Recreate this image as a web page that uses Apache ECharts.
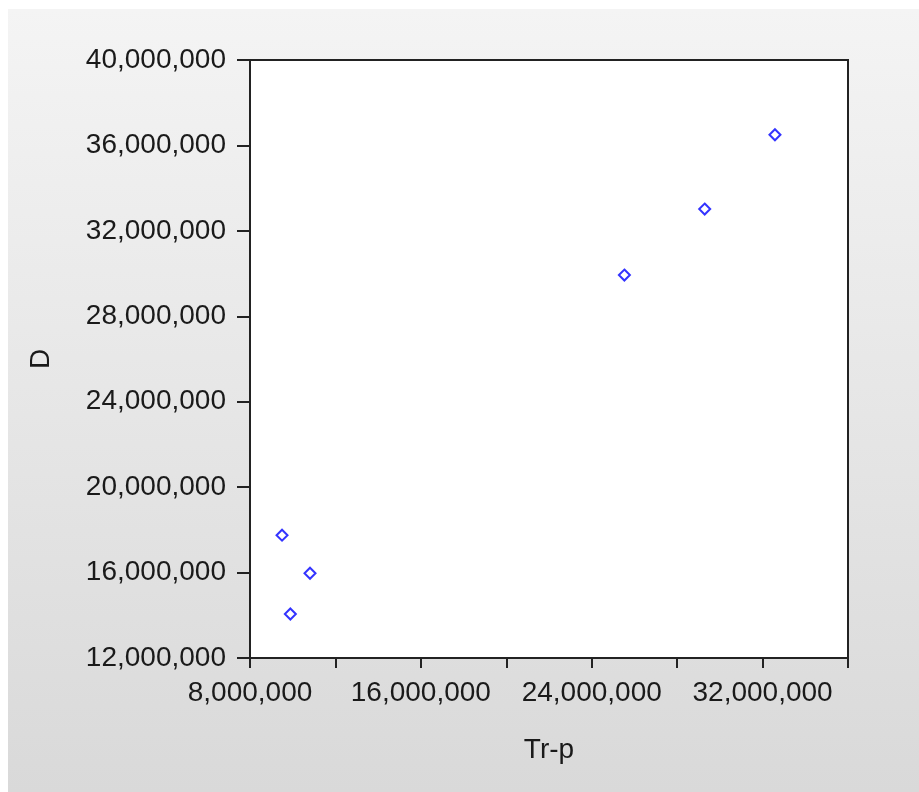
<!DOCTYPE html>
<html>
<head>
<meta charset="utf-8">
<script src="https://cdn.jsdelivr.net/npm/echarts@6/dist/echarts.min.js"></script>
<style>
html,body{margin:0;padding:0;background:#ffffff;}
#chart{width:919px;height:792px;}
</style>
</head>
<body>
<div id="chart"></div>
<script>
// Data (Tr-p on x, D on y)
const trP = [32580000, 29290000, 25530000, 9500000, 10810000, 9890000];
const dVals = [36500000, 33020000, 29930000, 17750000, 15970000, 14060000];
const xLabelled = [8000000, 16000000, 24000000, 32000000];
const xName = 'Tr-p';
const yName = 'D';

const points = trP.map((x, i) => [x, dVals[i]]);
const fmt = v => v.toLocaleString('en-US');
const font = '"Liberation Sans", Arial, sans-serif';

const chart = echarts.init(document.getElementById('chart'));
chart.setOption({
  animation: false,
  graphic: [{
    type: 'rect',
    z: -10,
    shape: {x: 8, y: 9, width: 911, height: 783},
    style: {
      fill: new echarts.graphic.LinearGradient(0, 0, 0, 1, [
        {offset: 0, color: '#f4f4f4'},
        {offset: 1, color: '#d9d9d9'}
      ])
    }
  }],
  grid: {
    left: 250, top: 60, right: 71, bottom: 134,
    show: true, backgroundColor: '#ffffff',
    borderColor: '#222', borderWidth: 2
  },
  xAxis: {
    type: 'value',
    min: 8000000, max: 36000000, interval: 4000000,
    name: xName, nameLocation: 'middle', nameGap: 78,
    nameTextStyle: {fontFamily: font, fontSize: 28, color: '#1a1a1a'},
    axisLine: {show: true, onZero: false, lineStyle: {color: '#222', width: 2}},
    axisTick: {show: true, inside: false, length: 10, lineStyle: {color: '#222', width: 2}},
    splitLine: {show: false},
    axisLabel: {
      margin: 21, fontFamily: font, fontSize: 28, color: '#1a1a1a',
      formatter: v => xLabelled.includes(v) ? fmt(v) : ''
    }
  },
  yAxis: {
    type: 'value',
    min: 12000000, max: 40000000, interval: 4000000,
    name: yName, nameLocation: 'middle', nameGap: 195, nameRotate: 90,
    nameTextStyle: {fontFamily: font, fontSize: 28, color: '#1a1a1a'},
    axisLine: {show: true, onZero: false, lineStyle: {color: '#222', width: 2}},
    axisTick: {show: true, inside: false, length: 13, lineStyle: {color: '#222', width: 2}},
    splitLine: {show: false},
    axisLabel: {
      margin: 24, fontFamily: font, fontSize: 28, color: '#1a1a1a',
      padding: [4, 0, 0, 0],
      formatter: v => fmt(v)
    }
  },
  series: [{
    type: 'scatter',
    data: points,
    symbol: 'diamond',
    symbolSize: 11,
    itemStyle: {color: '#ffffff', borderColor: '#0000ff', borderWidth: 2}
  }]
});
</script>
</body>
</html>
